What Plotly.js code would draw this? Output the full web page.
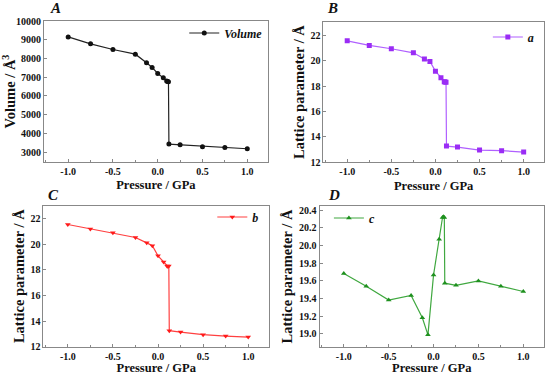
<!DOCTYPE html>
<html><head><meta charset="utf-8">
<script src="https://cdn.plot.ly/plotly-3.0.1.min.js"></script>
<style>body{margin:0;background:#fff}#chart{width:550px;height:375px}</style>
</head><body><div id="chart"></div>
<script>
const pressure = [-1.0, -0.75, -0.5, -0.25, -0.125, -0.0625, 0.0, 0.0625, 0.1, 0.11, 0.12, 0.125, 0.25, 0.5, 0.75, 1.0];
const volume = [9150, 8780, 8476, 8228, 7767, 7519, 7200, 6970, 6792, 6775, 6757, 3425, 3390, 3284, 3248, 3177];
const latticeA = [21.55, 21.19, 20.93, 20.61, 20.12, 19.93, 19.17, 18.65, 18.34, 18.31, 18.30, 13.28, 13.20, 12.97, 12.92, 12.81];
const latticeB = [21.53, 21.19, 20.88, 20.52, 20.10, 19.87, 19.09, 18.60, 18.29, 18.26, 18.29, 13.25, 13.14, 12.94, 12.83, 12.75];
const latticeC = [19.683, 19.54, 19.383, 19.435, 19.184, 18.99, 19.668, 20.07, 20.317, 20.325, 20.317, 19.574, 19.55, 19.60, 19.54, 19.48];
const xTicks = [-1.0, -0.5, 0.0, 0.5, 1.0];
const panelLabels = ['A', 'B', 'C', 'D'];

const F = 'Liberation Serif, Times New Roman, serif';
const tickFont = {family: F, size: 10, color: '#111', weight: 'bold'};
const xTitleFont = {family: F, size: 12.5, color: '#111', weight: 'bold'};
const yTitleFont = {family: F, size: 14.5, color: '#111', weight: 'bold'};

function mk(y, color, symbol, name, xa, ya, lg, lineColor) {
  return {x: pressure, y: y, type: 'scatter', mode: 'lines+markers', name: name,
    xaxis: xa, yaxis: ya, legend: lg,
    line: {color: lineColor || color, width: 1.2},
    marker: {color: color, symbol: symbol, size: 5}};
}
const traces = [
  mk(volume, '#111', 'circle', 'Volume', 'x', 'y', 'legend', '#222'),
  mk(latticeA, '#9a2cf5', 'square', 'a', 'x2', 'y2', 'legend2', '#b060ff'),
  mk(latticeB, '#ff1a1a', 'triangle-down', 'b', 'x3', 'y3', 'legend3', '#ff4040'),
  mk(latticeC, '#1e901e', 'triangle-up', 'c', 'x4', 'y4', 'legend4', '#40a840')
];

function xax(dom, anchor) {
  return {domain: dom, anchor: anchor, range: [-1.27, 1.23], tickvals: xTicks, ticktext: xTicks.map(v => v.toFixed(1)),
    ticks: 'inside', ticklen: 3, tickcolor: '#888', showline: true, linecolor: '#888', mirror: true,
    showgrid: false, zeroline: false, tickfont: tickFont,
    minor: {ticks: 'inside', ticklen: 2, tickcolor: '#888', dtick: 0.25, tick0: 0, showgrid: false},
    title: {text: 'Pressure / GPa', font: xTitleFont, standoff: 4}};
}
function yax(dom, anchor, range, dtick, fmt, title) {
  return {domain: dom, anchor: anchor, range: range, dtick: dtick, tick0: 0, tickformat: fmt,
    ticks: 'inside', ticklen: 3, tickcolor: '#888', showline: true, linecolor: '#888', mirror: true,
    showgrid: false, zeroline: false, tickfont: tickFont,
    title: {text: title, font: yTitleFont, standoff: 2}};
}
function leg(x, y) {
  return {x: x, y: y, xanchor: 'left', yanchor: 'middle', bgcolor: 'rgba(0,0,0,0)',
    font: {family: F, size: 12, color: '#111', style: 'italic', weight: 'bold'}, itemwidth: 30};
}
const labelPos = [[55, 8], [332, 8], [53, 195], [334, 195]];
const annotations = panelLabels.map((t, i) => ({text: t, xref: 'paper', yref: 'paper',
  x: labelPos[i][0] / 550, y: 1 - labelPos[i][1] / 375, xanchor: 'center', yanchor: 'middle', showarrow: false,
  font: {family: F, size: 15, color: '#111', style: 'italic', weight: 'bold'}}));

const layout = {
  width: 550, height: 375, margin: {l: 0, r: 0, t: 0, b: 0},
  paper_bgcolor: '#fff', plot_bgcolor: '#fff', showlegend: true,
  xaxis: xax([0.080, 0.487], 'y'),
  yaxis: yax([0.568, 0.944], 'x', [2470, 10000], 1000, 'd', 'Volume / Å<sup>3</sup>'),
  xaxis2: xax([0.588, 0.989], 'y2'),
  yaxis2: yax([0.567, 0.942], 'x2', [12, 23.05], 2, 'd', 'Lattice parameter / Å'),
  xaxis3: xax([0.079, 0.489], 'y3'),
  yaxis3: yax([0.0755, 0.4515], 'x3', [12, 23.0], 2, 'd', 'Lattice parameter / Å'),
  xaxis4: xax([0.581, 0.989], 'y4'),
  yaxis4: yax([0.074, 0.4515], 'x4', [18.85, 20.45], 0.2, '.1f', 'Lattice parameter / Å'),
  legend: leg(0.335, 1 - 33 / 375),
  legend2: leg(0.887, 1 - 37 / 375),
  legend3: leg(0.386, 1 - 217 / 375),
  legend4: leg(0.598, 1 - 218 / 375),
  annotations: annotations
};
Plotly.newPlot('chart', traces, layout, {displayModeBar: false, staticPlot: true});
</script></body></html>
